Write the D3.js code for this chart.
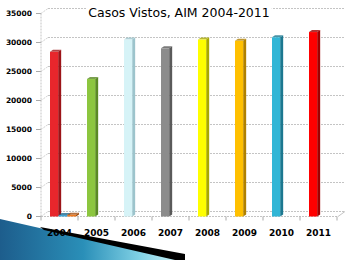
<!DOCTYPE html>
<html>
<head>
<meta charset="utf-8">
<script src="https://cdn.jsdelivr.net/npm/d3@7"></script>
<style>
  body { margin: 0; background: #fff; }
  svg { display: block; }
</style>
</head>
<body>
<div id="chart"></div>
<script>
// data
var years = ["2004", "2005", "2006", "2007", "2008", "2009", "2010", "2011"];
var casos = [28400, 23700, 30500, 29000, 30500, 30300, 30900, 31800];
// two tiny series that only show up next to 2004
var serieAzul = [250, 0, 0, 0, 0, 0, 0, 0];
var serieNaranja = [300, 0, 0, 0, 0, 0, 0, 0];
var yTicks = [0, 5000, 10000, 15000, 20000, 25000, 30000, 35000];
var titulo = "Casos Vistos, AIM 2004-2011";

var barColors = ["#e8262c", "#8cc63f", "#d6f3f7", "#8c8c8c", "#ffff00", "#ffc000", "#31b6d6", "#ff0000"];
var sideColors = ["#9c1418", "#5a8a24", "#9cc4cc", "#5a5a5a", "#a8a800", "#b08000", "#1c7890", "#a00000"];

var width = 361, height = 260;
var depthX = 7, depthY = 5;   // back wall offset
var barDX = 3, barDY = 2;     // bar side / cap

var svg = d3.select("#chart").append("svg")
  .attr("width", width)
  .attr("height", height);

var x0 = d3.scaleBand().domain(years).range([41, 337]);
var x1 = d3.scaleBand().domain(["s1", "s2", "s3"]).range([9, 35]);
var y = d3.scaleLinear().domain([0, 35000]).range([216.5, 13.5]);

var gridColor = "#c4c4c4";
var grid = svg.append("g");

// back wall lines + little diagonals
yTicks.forEach(function(t) {
  grid.append("line")
    .attr("x1", 41 + depthX).attr("x2", 345)
    .attr("y1", y(t) - depthY).attr("y2", y(t) - depthY)
    .attr("stroke", gridColor).attr("stroke-dasharray", "2,1");
  grid.append("line")
    .attr("x1", 41).attr("x2", 41 + depthX)
    .attr("y1", y(t)).attr("y2", y(t) - depthY)
    .attr("stroke", gridColor).attr("stroke-dasharray", "1,1");
  grid.append("line")
    .attr("x1", 36).attr("x2", 41)
    .attr("y1", y(t)).attr("y2", y(t))
    .attr("stroke", "#aaa");
});

// front y axis
grid.append("line")
  .attr("x1", 41).attr("x2", 41)
  .attr("y1", y(35000)).attr("y2", y(0))
  .attr("stroke", gridColor).attr("stroke-dasharray", "2,1");

// floor front edge
grid.append("line")
  .attr("x1", 41).attr("x2", 338)
  .attr("y1", y(0)).attr("y2", y(0))
  .attr("stroke", gridColor).attr("stroke-dasharray", "2,1");
grid.append("line")
  .attr("x1", 338).attr("x2", 345)
  .attr("y1", y(0)).attr("y2", y(0) - depthY)
  .attr("stroke", gridColor);

// x ticks
years.concat(["end"]).forEach(function(yr, i) {
  var xx = i < years.length ? x0(yr) : x0.range()[1];
  grid.append("line")
    .attr("x1", xx).attr("x2", xx)
    .attr("y1", y(0)).attr("y2", y(0) + 4)
    .attr("stroke", "#aaa");
});

// y labels
svg.append("g").selectAll("text")
  .data(yTicks).enter().append("text")
  .attr("x", 32)
  .attr("y", function(d) { return y(d) + 2.7; })
  .attr("text-anchor", "end")
  .style("font-family", "DejaVu Sans")
  .style("font-weight", "bold")
  .style("font-size", "7.5px")
  .text(function(d) { return d; });

// bars, drawn as front face + side + cap
function bar3d(g, xLeft, w, v, front, side) {
  var top = y(v), base = y(0);
  g.append("polygon")
    .attr("points", [[xLeft + w, base], [xLeft + w + barDX, base - barDY], [xLeft + w + barDX, top - barDY], [xLeft + w, top]].join(" "))
    .attr("fill", side);
  g.append("polygon")
    .attr("points", [[xLeft, top], [xLeft + barDX, top - barDY], [xLeft + w + barDX, top - barDY], [xLeft + w, top]].join(" "))
    .attr("fill", side).attr("opacity", 0.8);
  g.append("rect")
    .attr("x", xLeft).attr("y", top)
    .attr("width", w).attr("height", base - top)
    .attr("fill", front);
}

var bars = svg.append("g");
years.forEach(function(yr, i) {
  var bx = x0(yr);
  bar3d(bars, bx + x1("s1"), x1.bandwidth() - 0.5, casos[i], barColors[i], sideColors[i]);
  if (serieAzul[i] > 0) bar3d(bars, bx + x1("s2"), x1.bandwidth(), serieAzul[i], "#3a9fd0", "#1f6a90");
  if (serieNaranja[i] > 0) bar3d(bars, bx + x1("s3"), x1.bandwidth(), serieNaranja[i], "#f07a20", "#a04e10");
});

// bottom-left decoration
var defs = svg.append("defs");
var grad = defs.append("linearGradient").attr("id", "deco")
  .attr("x1", "0%").attr("x2", "100%").attr("y1", "0%").attr("y2", "0%");
grad.append("stop").attr("offset", "0%").attr("stop-color", "#1d5d8c");
grad.append("stop").attr("offset", "45%").attr("stop-color", "#2a8fb8");
grad.append("stop").attr("offset", "75%").attr("stop-color", "#7fd0e4");
grad.append("stop").attr("offset", "100%").attr("stop-color", "#d4f6fb");

svg.append("polygon")
  .attr("points", "0,219 44,229 185,260 0,260")
  .attr("fill", "url(#deco)");
svg.append("polygon")
  .attr("points", "40,227 185,254 185,260 175,260 44,230")
  .attr("fill", "#000");

// x labels
svg.append("g").selectAll("text")
  .data(years).enter().append("text")
  .attr("x", function(d) { return x0(d) + x0.bandwidth() / 2; })
  .attr("y", 236)
  .attr("text-anchor", "middle")
  .style("font-family", "DejaVu Sans")
  .style("font-weight", "bold")
  .style("font-size", "9px")
  .text(function(d) { return d; });

// title with a white box behind it
var titleBox = svg.append("rect").attr("fill", "#fff");
var tt = svg.append("text")
  .attr("x", 179).attr("y", 17)
  .attr("text-anchor", "middle")
  .style("font-family", "DejaVu Sans")
  .style("font-size", "12.5px")
  .text(titulo);
var bb = tt.node().getBBox();
titleBox
  .attr("x", bb.x - 2).attr("y", bb.y)
  .attr("width", bb.width + 4).attr("height", bb.height);
</script>
</body>
</html>
